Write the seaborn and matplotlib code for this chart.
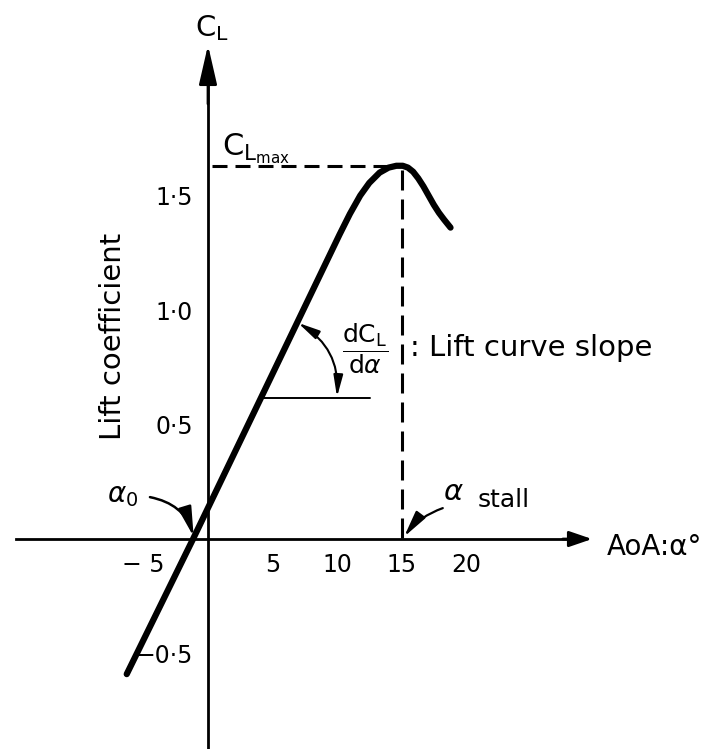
import matplotlib
matplotlib.use("Agg")
import matplotlib.pyplot as plt
import seaborn as sns
import pandas as pd

# Lift curve read as (angle of attack in degrees, lift coefficient)
alpha = [-6.30, -1.16, 10.2, 11.0, 11.8, 12.5, 13.3, 14.0, 14.6, 15.1,
         15.5, 15.9, 16.3, 16.7, 17.1, 17.5, 17.9, 18.3, 18.8]
cl = [-0.59, 0.0, 1.33, 1.42, 1.50, 1.555, 1.60, 1.622, 1.63, 1.63,
      1.622, 1.604, 1.575, 1.54, 1.50, 1.46, 1.425, 1.395, 1.36]

x_ticks = [-5, 5, 10, 15, 20]
x_tick_labels = ["\u2212 5", "5", "10", "15", "20"]
y_ticks = [-0.5, 0.5, 1.0, 1.5]
y_tick_labels = ["\u22120\u00b75", "0\u00b75", "1\u00b70", "1\u00b75"]

cl_max = 1.63
alpha_stall = 15.0
alpha_zero = -1.16
slope_base_cl = 0.616
slope_base_alpha = [4.15, 12.56]

sns.set_style("white")
plt.rcParams["font.family"] = ["DejaVu Sans"]
plt.rcParams["mathtext.fontset"] = "dejavusans"
plt.rcParams["text.color"] = "black"

fig = plt.figure(figsize=(7.19, 7.49), dpi=100)
ax = fig.add_axes([0, 0, 1, 1])
ax.set_xlim(-16.124, 39.612)
ax.set_ylim(-0.917, 2.354)

# axes through the origin
for side in ("top", "right"):
    ax.spines[side].set_visible(False)
ax.spines["left"].set_position(("data", 0))
ax.spines["bottom"].set_position(("data", 0))
ax.spines["left"].set_bounds(-0.917, 2.05)
ax.spines["bottom"].set_bounds(-14.9, 29.0)
for side in ("left", "bottom"):
    ax.spines[side].set_linewidth(2.0)
    ax.spines[side].set_color("black")

ax.set_xticks(x_ticks, x_tick_labels)
ax.set_yticks(y_ticks, y_tick_labels)
ax.tick_params(axis="both", direction="inout", length=8.6, width=1.8,
               colors="black", labelsize=17)
ax.tick_params(axis="x", pad=5.8)
ax.tick_params(axis="y", pad=6.5)

# arrowheads on the axes
ax.annotate("", xy=(0, 2.157), xytext=(0, 1.9),
            arrowprops=dict(arrowstyle="-|>,head_length=2.4,head_width=0.55",
                            mutation_scale=10, lw=2, color="black",
                            shrinkA=0, shrinkB=0))
ax.annotate("", xy=(29.77, 0), xytext=(27.5, 0),
            arrowprops=dict(arrowstyle="-|>,head_length=1.4,head_width=0.48",
                            mutation_scale=10, lw=2, color="black",
                            shrinkA=0, shrinkB=0))

# lift curve
df = pd.DataFrame({"alpha": alpha, "cl": cl})
sns.lineplot(data=df, x="alpha", y="cl", ax=ax, color="black", lw=4.5,
             sort=False, estimator=None)
ax.lines[-1].set_solid_joinstyle("round")
ax.set_xlabel("")
ax.set_ylabel("")

# CL max and stall guide lines
ax.plot([0.31, 14.5], [cl_max, cl_max], color="black", lw=2.2,
        linestyle=(0, (15 * 0.72 / 2.2, 8 * 0.72 / 2.2)))
ax.plot([alpha_stall, alpha_stall], [cl_max - 0.02, 0], color="black", lw=2.2,
        linestyle=(0, (20 * 0.72 / 2.2, 9 * 0.72 / 2.2)))

# slope triangle
ax.plot(slope_base_alpha, [slope_base_cl, slope_base_cl], color="black", lw=1.4)
ax.annotate("", xy=(10.0, 0.62), xytext=(6.98, 0.944),
            arrowprops=dict(arrowstyle="<|-|>,head_length=1.3,head_width=0.28",
                            mutation_scale=10, lw=1.5, color="black",
                            connectionstyle="arc3,rad=-0.3",
                            shrinkA=0, shrinkB=0))

# labels
ax.text(0.31, 2.23, r"$\mathregular{C_L}$", fontsize=21, ha="center", va="center")
ax.text(1.09, 1.677, r"$\mathregular{C_{L_{max}}}$", fontsize=22,
        ha="left", va="baseline")
ax.text(-7.36, 0.886, "Lift coefficient", fontsize=21, rotation=90,
        ha="center", va="center")
ax.text(12.2, 0.83, r"$\dfrac{\mathregular{dC_L}}{\mathregular{d}\alpha}$",
        fontsize=18, ha="center", va="center")
ax.text(15.66, 0.80, ": Lift curve slope", fontsize=21, ha="left", va="baseline")
ax.text(30.9, -0.07, "AoA:\u03b1\u00b0", fontsize=20, ha="left", va="baseline")

# zero-lift angle
ax.text(-7.83, 0.16, r"$\alpha_0$", fontsize=20, ha="left", va="baseline")
ax.annotate("", xy=(alpha_zero + 0.05, 0.01), xytext=(-4.5, 0.183),
            arrowprops=dict(arrowstyle="-|>,head_length=1.8,head_width=0.4",
                            mutation_scale=10, lw=1.8, color="black",
                            connectionstyle="arc3,rad=-0.3",
                            shrinkA=0, shrinkB=0))

# stall angle
ax.text(18.2, 0.17, r"$\alpha$", fontsize=21, ha="left", va="baseline")
ax.text(20.9, 0.14, "stall", fontsize=18, ha="left", va="baseline")
ax.annotate("", xy=(alpha_stall + 0.2, 0.01), xytext=(18.2, 0.135),
            arrowprops=dict(arrowstyle="-|>,head_length=1.6,head_width=0.35",
                            mutation_scale=10, lw=1.6, color="black",
                            connectionstyle="arc3,rad=0.15",
                            shrinkA=0, shrinkB=0))

fig.savefig("out.png", dpi=100, facecolor="white")
